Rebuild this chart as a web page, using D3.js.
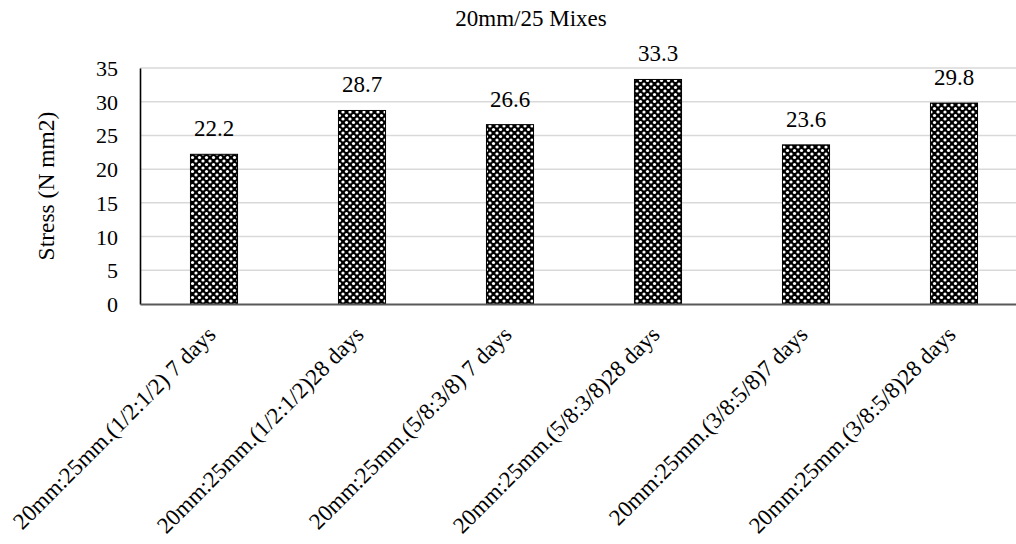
<!DOCTYPE html>
<html>
<head>
<meta charset="utf-8">
<script src="https://cdn.jsdelivr.net/npm/d3@7"></script>
<style>
  html, body { margin: 0; padding: 0; background: #fff; }
  svg { display: block; overflow: hidden; }
</style>
</head>
<body>
<svg id="chart" width="1016" height="544"></svg>
<script>
// Compressive stress of the 20mm/25mm aggregate mixes
const categories = [
  "20mm:25mm.(1/2:1/2) 7 days",
  "20mm:25mm.(1/2:1/2)28 days",
  "20mm:25mm.(5/8:3/8) 7 days",
  "20mm:25mm.(5/8:3/8)28 days",
  "20mm:25mm.(3/8:5/8)7 days",
  "20mm:25mm.(3/8:5/8)28 days"
];
const stress = [22.2, 28.7, 26.6, 33.3, 23.6, 29.8];
const yTicks = [0, 5, 10, 15, 20, 25, 30, 35];
const chartTitle = "20mm/25 Mixes";
const yTitle = "Stress (N mm2)";

const FONT = '"Liberation Serif", "Times New Roman", serif';
const plot = { left: 140, right: 1028, top: 68, bottom: 304 };

const svg = d3.select("#chart");
const serif = (sel, size) => sel.style("font-family", FONT).style("font-size", size + "px").attr("fill", "#000");

// dotted checker fill for the bars
const defs = svg.append("defs");
const pat = defs.append("pattern")
  .attr("id", "dots")
  .attr("patternUnits", "userSpaceOnUse")
  .attr("width", 7).attr("height", 7);
pat.append("rect").attr("width", 7).attr("height", 7).attr("fill", "#000");
[[0, 0], [7, 0], [0, 7], [7, 7], [3.5, 3.5]].forEach(([cx, cy]) => {
  pat.append("circle").attr("cx", cx).attr("cy", cy).attr("r", 1.6).attr("fill", "#fff");
});

const x = d3.scaleBand()
  .domain(categories)
  .range([plot.left, plot.right])
  .paddingInner(0.682)
  .paddingOuter(0.341);

const y = d3.scaleLinear()
  .domain([0, 35])
  .range([plot.bottom, plot.top]);

// horizontal gridlines
svg.append("g")
  .selectAll("line")
  .data(yTicks.filter(t => t > 0))
  .join("line")
  .attr("x1", plot.left).attr("x2", plot.right)
  .attr("y1", d => y(d)).attr("y2", d => y(d))
  .attr("stroke", "#d9d9d9").attr("stroke-width", 1.5);

// y axis
const yAxis = svg.append("g")
  .attr("transform", `translate(${plot.left},0)`)
  .call(d3.axisLeft(y).tickValues(yTicks).tickSize(0).tickPadding(22).tickFormat(d3.format("d")));
yAxis.select(".domain").attr("stroke", "#000").attr("stroke-width", 1.6);
yAxis.selectAll("text").call(serif, 22).attr("dy", "0.34em");

// bars
svg.append("g")
  .selectAll("rect")
  .data(stress)
  .join("rect")
  .attr("x", (d, i) => x(categories[i]))
  .attr("y", d => y(d))
  .attr("width", x.bandwidth())
  .attr("height", d => y(0) - y(d))
  .attr("fill", "url(#dots)")
  .attr("stroke", "#000")
  .attr("stroke-width", 1);

// value labels
svg.append("g")
  .selectAll("text")
  .data(stress)
  .join("text")
  .attr("x", (d, i) => x(categories[i]) + x.bandwidth() / 2)
  .attr("y", d => y(d) - 18)
  .attr("text-anchor", "middle")
  .call(serif, 23)
  .text(d => d3.format(".1f")(d));

// x axis
const xAxis = svg.append("g")
  .attr("transform", `translate(0,${plot.bottom})`)
  .call(d3.axisBottom(x).tickSize(0).tickFormat(""));
xAxis.select(".domain").attr("stroke", "#595959").attr("stroke-width", 2);

// rotated category labels
svg.append("g")
  .selectAll("text")
  .data(categories)
  .join("text")
  .attr("transform", d => `translate(${x(d) + x.bandwidth() / 2 + 3},${plot.bottom + 32}) rotate(-45)`)
  .attr("text-anchor", "end")
  .call(serif, 23)
  .text(d => d);

// y axis title
svg.append("text")
  .attr("transform", `translate(54,${(plot.top + plot.bottom) / 2}) rotate(-90)`)
  .attr("text-anchor", "middle")
  .call(serif, 23.5)
  .text(yTitle);

// chart title
svg.append("text")
  .attr("x", 531)
  .attr("y", 26)
  .attr("text-anchor", "middle")
  .call(serif, 23)
  .text(chartTitle);
</script>
</body>
</html>
